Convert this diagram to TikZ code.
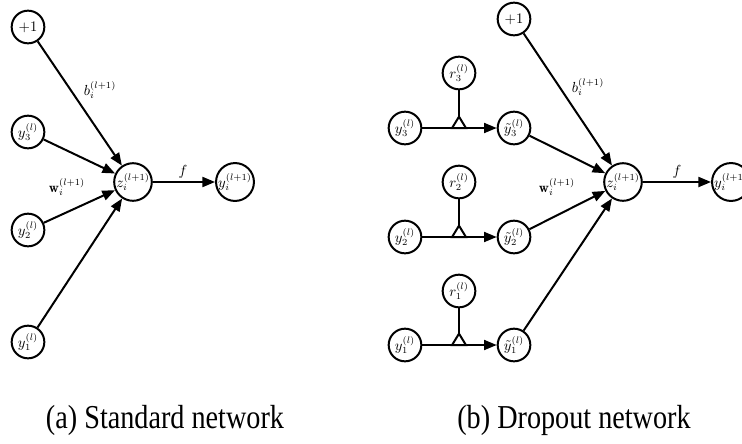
\documentclass[tikz,border=0pt]{standalone}
\usepackage{fontspec}
\newfontfamily\capfont{Liberation Serif}
\usetikzlibrary{arrows.meta}
\begin{document}
\begin{tikzpicture}[x=0.75pt,y=-0.75pt,
  neuron/.style={circle,draw,line width=1.5pt,minimum size=24.5pt,inner sep=0pt,fill=white,font=\fontsize{10.5}{12}\selectfont},
  conn/.style={line width=1.5pt,-{Triangle[length=9.5pt,width=7.5pt]}},
  plainline/.style={line width=1.5pt},
  gatetri/.style={line width=1.5pt,fill=white,line join=miter},
  lbl/.style={inner sep=0pt,font=\fontsize{10.5}{12}\selectfont},
  caption/.style={inner sep=0pt,anchor=base,font=\capfont\fontsize{21.8}{24}\selectfont}]
\useasboundingbox (0,0) rectangle (742,443);
% ---------- (a) standard network ----------
\node[neuron] (ap) at (28,27) {$+1$};
\node[neuron] (ay3) at (28,132) {$y_3^{(l)}$};
\node[neuron] (ay2) at (28,230) {$y_2^{(l)}$};
\node[neuron] (ay1) at (28,342) {$y_1^{(l)}$};
\node[neuron] (az) at (133,182) {$z_i^{(l+1)}$};
\node[neuron] (ao) at (235,182) {$y_i^{(l+1)}$};
\draw[conn] (ap) -- (az);
\draw[conn] (ay3) -- (az);
\draw[conn] (ay2) -- (az);
\draw[conn] (ay1) -- (az);
\draw[conn] (az) -- (ao);
\node[lbl] (ab) at (100,90) {$b_i^{(l+1)}$};
\node[lbl] (aw) at (67,187) {$\mathbf{w}_i^{(l+1)}$};
\node[lbl] (af) at (183,172) {$f$};
% ---------- (b) dropout network ----------
\node[neuron] (bp) at (514,19) {$+1$};
\node[neuron] (br3) at (459,73) {$r_3^{(l)}$};
\node[neuron] (br2) at (459,182) {$r_2^{(l)}$};
\node[neuron] (br1) at (459,291) {$r_1^{(l)}$};
\node[neuron] (by3) at (405,128) {$y_3^{(l)}$};
\node[neuron] (by2) at (405,237) {$y_2^{(l)}$};
\node[neuron] (by1) at (405,345) {$y_1^{(l)}$};
\node[neuron] (bt3) at (514,128) {$\tilde{y}_3^{(l)}$};
\node[neuron] (bt2) at (514,237) {$\tilde{y}_2^{(l)}$};
\node[neuron] (bt1) at (514,345) {$\tilde{y}_1^{(l)}$};
\node[neuron] (bz) at (623,182) {$z_i^{(l+1)}$};
\node[neuron] (bo) at (731,182) {$y_i^{(l+1)}$};
\foreach \k in {1,2,3}{
  \draw[conn] (by\k) -- (bt\k);
  \coordinate (g\k) at (br\k |- by\k);
  \draw[gatetri] ([xshift=-5.2pt]g\k) -- ([yshift=8.5pt]g\k) -- ([xshift=5.2pt]g\k) -- cycle;
  \draw[plainline] (br\k) -- ([yshift=8.5pt]g\k);
  \draw[conn] (bt\k) -- (bz);
}
\draw[conn] (bp) -- (bz);
\draw[conn] (bz) -- (bo);
\node[lbl] (bb) at (588,87) {$b_i^{(l+1)}$};
\node[lbl] (bw) at (557,187) {$\mathbf{w}_i^{(l+1)}$};
\node[lbl] (bf) at (677,172) {$f$};
% ---------- captions ----------
\node[caption] (capa) at (165,428) {\scalebox{0.97}[1.15]{(a) Standard network}};
\node[caption] (capb) at (574,428) {\scalebox{0.97}[1.15]{(b) Dropout network}};
\end{tikzpicture}
\end{document}
